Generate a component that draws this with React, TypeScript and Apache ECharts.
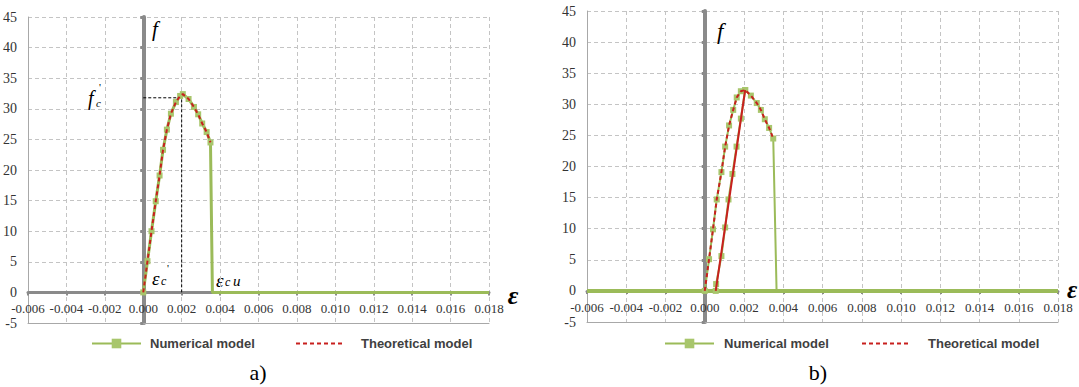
import React, { useEffect, useRef } from "react";
import * as echarts from "echarts";

// ---- axes ----
const X_MIN = -0.006;
const X_MAX = 0.018;
const X_STEP = 0.002;
const Y_MIN = -5;
const Y_MAX = 45;
const Y_STEP = 5;

// ---- chart a) ----
const epsA = [0, 0.00022, 0.00043, 0.00065, 0.00085, 0.00103, 0.00123, 0.00144, 0.0017, 0.00192, 0.00206, 0.00236, 0.00264, 0.00286, 0.00307, 0.0033, 0.0035];
const fA = [0, 5.1, 10.0, 14.9, 19.1, 23.3, 26.6, 29.2, 31.1, 32.1, 32.4, 31.6, 30.3, 29.1, 27.6, 26.2, 24.5];
const tailEpsA = [0.0036, 0.018];
const tailFA = [0, 0];
const theoEpsA = [0, 0.00022, 0.00043, 0.00065, 0.00085, 0.00103, 0.00123, 0.00144, 0.0017, 0.00192, 0.00206, 0.00236, 0.00264, 0.00286, 0.00307, 0.0033, 0.0035];
const theoFA = [0, 5.1, 10.0, 14.9, 19.1, 23.3, 26.6, 29.2, 31.1, 32.1, 32.4, 31.6, 30.3, 29.1, 27.6, 26.2, 24.5];
const guideEps = [0, 0.002, 0.002];
const guideF = [31.8, 31.8, 0];

// ---- chart b) ----
const baseEpsB = [-0.006, 0.018];
const baseFB = [0, 0];
const epsB1 = [0, 0.00022, 0.00042, 0.00061, 0.00085, 0.00104, 0.00124, 0.00145, 0.00163, 0.00184, 0.00206, 0.00235, 0.00265, 0.00286, 0.00306, 0.00328, 0.00349];
const fB1 = [0, 5.1, 9.9, 14.7, 19.1, 23.2, 26.6, 29.1, 31.1, 32.1, 32.3, 31.4, 30.2, 29.1, 27.6, 26.2, 24.5];
const dropEpsB = [0.00366];
const dropFB = [0];
const epsB2 = [0.00056, 0.00058, 0.00085, 0.00104, 0.00121, 0.00141, 0.00162, 0.00184, 0.00206];
const fB2 = [0, 1.1, 5.6, 10.2, 14.7, 18.8, 23.2, 27.7, 32.3];
const theoEpsB1 = [0, 0.00022, 0.00042, 0.00061, 0.00085, 0.00104, 0.00124, 0.00145, 0.00163, 0.00184, 0.00206, 0.00235, 0.00265, 0.00286, 0.00306, 0.00328, 0.00349];
const theoFB1 = [0, 5.1, 9.9, 14.7, 19.1, 23.2, 26.6, 29.1, 31.1, 32.1, 32.3, 31.4, 30.2, 29.1, 27.6, 26.2, 24.5];
const theoEpsB2 = [0.00056, 0.00206];
const theoFB2 = [0, 32.3];

const NUM = "Numerical model";
const THEO = "Theoretical model";

const GREEN = "#9BBB59";
const GREEN_MARK = "#A8C66C";
const RED = "#C8201E";
const GRAY = "#8A8A8A";
const GRID_GRAY = "#C4C4C4";
const BORDER_GRAY = "#A8A8A8";
const SERIF = "'Liberation Serif', 'Times New Roman', serif";
const SANS = "'Liberation Sans', Arial, sans-serif";

const zip = (xs: number[], ys: number[]) => xs.map((x, i) => [x, ys[i]]);
const fmtX = (v: number) => (Math.abs(v) < 1e-9 ? "0.000" : v.toFixed(3));

function mainX(gridIndex: number) {
  return {
    type: "value",
    gridIndex,
    min: X_MIN,
    max: X_MAX,
    interval: X_STEP,
    position: "bottom",
    axisLine: { show: true, onZero: true, lineStyle: { color: GRAY, width: 3 } },
    axisTick: { show: true, length: 3, lineStyle: { color: GRAY, width: 2 } },
    axisLabel: { show: false },
    splitLine: { show: true, lineStyle: { color: GRID_GRAY, type: [4, 3], width: 1 } },
  };
}
function borderX(gridIndex: number) {
  return {
    type: "value",
    gridIndex,
    min: X_MIN,
    max: X_MAX,
    interval: X_STEP,
    position: "bottom",
    axisLine: { show: true, onZero: false, lineStyle: { color: BORDER_GRAY, width: 1 } },
    axisTick: { show: false },
    axisLabel: {
      show: true,
      inside: true,
      margin: 8,
      fontFamily: SERIF,
      fontSize: 13,
      color: "#333333",
      showMinLabel: true,
      showMaxLabel: true,
      formatter: fmtX,
    },
    splitLine: { show: false },
  };
}
function mainY(gridIndex: number) {
  return {
    type: "value",
    gridIndex,
    min: Y_MIN,
    max: Y_MAX,
    interval: Y_STEP,
    position: "left",
    axisLine: { show: true, onZero: true, lineStyle: { color: GRAY, width: 4 } },
    axisTick: { show: true, length: 3, lineStyle: { color: GRAY, width: 3 } },
    axisLabel: {
      show: true,
      margin: 11,
      fontFamily: SERIF,
      fontSize: 14,
      color: "#333333",
      showMinLabel: true,
      showMaxLabel: true,
    },
    splitLine: { show: true, lineStyle: { color: GRID_GRAY, type: [4, 3], width: 1 } },
  };
}
function borderY(gridIndex: number) {
  return {
    type: "value",
    gridIndex,
    min: Y_MIN,
    max: Y_MAX,
    interval: Y_STEP,
    position: "left",
    axisLine: { show: true, onZero: false, lineStyle: { color: BORDER_GRAY, width: 1 } },
    axisTick: { show: false },
    axisLabel: { show: false },
    splitLine: { show: false },
  };
}

function legendItem(left: number, name: string, pad: number, hideSymbol: boolean) {
  return {
    left,
    top: 332,
    itemWidth: 49,
    itemHeight: 12,
    data: [name],
    ...(hideSymbol ? { itemStyle: { color: "rgba(0,0,0,0)", borderWidth: 0, opacity: 0 } } : {}),
    textStyle: {
      fontFamily: SANS,
      fontWeight: "bold",
      fontSize: 13,
      color: "#404040",
      padding: [0, 0, 0, pad],
    },
  };
}

const txt = (x: number, y: number, text: string, font: string, align = "left") => ({
  type: "text",
  x,
  y,
  silent: true,
  style: { text, font, fill: "#000", align, verticalAlign: "middle" },
});

export default function App() {
  const ref = useRef<HTMLDivElement>(null);
  useEffect(() => {
    if (!ref.current) return;
    const chart = echarts.init(ref.current, undefined, { renderer: "svg" });
    const numA = [
      ...zip(epsA, fA).map((v) => ({ value: v })),
      ...zip(tailEpsA, tailFA).map((v) => ({ value: v, symbol: "none" })),
    ];
    const numB1 = [
      ...zip(epsB1, fB1).map((v) => ({ value: v })),
      ...zip(dropEpsB, dropFB).map((v) => ({ value: v, symbol: "none" })),
    ];
    const numStyle = (width: number) => ({
      type: "line",
      name: NUM,
      symbol: "rect",
      symbolSize: 6,
      showAllSymbol: true,
      lineStyle: { color: GREEN, width },
      itemStyle: { color: GREEN_MARK },
      z: 2,
    });
    const theoStyle = (dashed: boolean) => ({
      type: "line",
      name: THEO,
      symbol: "none",
      showSymbol: false,
      lineStyle: { color: RED, width: 2, type: dashed ? [4, 3] : "solid" },
      itemStyle: { color: RED },
      z: 3,
    });
    const option = {
      animation: false,
      backgroundColor: "#fff",
      textStyle: { fontFamily: SERIF },
      grid: [
        { left: 23, top: 17, width: 466, height: 306, show: false },
        { left: 587, top: 11, width: 471, height: 311, show: false },
      ],
      xAxis: [mainX(0), borderX(0), mainX(1), borderX(1)],
      yAxis: [mainY(0), borderY(0), mainY(1), borderY(1)],
      legend: [
        legendItem(86, NUM, 4, false),
        legendItem(290, THEO, 11, true),
        legendItem(659, NUM, 5, false),
        legendItem(856, THEO, 12, true),
      ],
      series: [
        { ...numStyle(3), xAxisIndex: 0, yAxisIndex: 0, data: numA },
        { ...theoStyle(true), xAxisIndex: 0, yAxisIndex: 0, data: zip(theoEpsA, theoFA) },
        {
          type: "line",
          name: "guide",
          xAxisIndex: 0,
          yAxisIndex: 0,
          data: zip(guideEps, guideF),
          symbol: "none",
          showSymbol: false,
          silent: true,
          lineStyle: { color: "#000", width: 1, type: [3, 2] },
          z: 1,
        },
        {
          type: "line",
          name: NUM,
          xAxisIndex: 2,
          yAxisIndex: 2,
          data: zip(baseEpsB, baseFB),
          symbol: "none",
          showSymbol: false,
          lineStyle: { color: GREEN, width: 4 },
          z: 2,
        },
        { ...numStyle(2), xAxisIndex: 2, yAxisIndex: 2, data: numB1 },
        { ...numStyle(2), xAxisIndex: 2, yAxisIndex: 2, data: zip(epsB2, fB2) },
        { ...theoStyle(true), xAxisIndex: 2, yAxisIndex: 2, data: zip(theoEpsB1, theoFB1) },
        { ...theoStyle(false), xAxisIndex: 2, yAxisIndex: 2, data: zip(theoEpsB2, theoFB2) },
      ],
      graphic: {
        elements: [
          // chart a annotations
          txt(152, 29, "f", `italic 21px ${SERIF}`),
          txt(513, 295, "ε", `italic bold 26px ${SERIF}`, "center"),
          txt(88, 98, "f", `italic 20px ${SERIF}`),
          txt(96, 103, "c", `italic 11px ${SERIF}`),
          txt(99, 87, "'", `11px ${SERIF}`),
          txt(152, 278, "ε", `italic 19px ${SERIF}`),
          txt(161, 281, "c", `italic 12px ${SERIF}`),
          txt(167, 268, "'", `11px ${SERIF}`),
          txt(216, 280, "ε", `italic 19px ${SERIF}`),
          txt(225, 282, "c", `italic 12px ${SERIF}`),
          txt(233, 281, "u", `italic 15px ${SERIF}`),
          txt(258, 372, "a)", `22px ${SERIF}`, "center"),
          // chart b annotations
          txt(717, 31, "f", `italic 23px ${SERIF}`),
          txt(1072, 289, "ε", `italic bold 25px ${SERIF}`, "center"),
          txt(818, 372, "b)", `22px ${SERIF}`, "center"),
        ],
      },
    };
    chart.setOption(option as any);
    return () => chart.dispose();
  }, []);
  return (
    <div
      ref={ref}
      style={{ position: "absolute", left: 0, top: 0, width: 1079, height: 387, background: "#fff" }}
    />
  );
}
